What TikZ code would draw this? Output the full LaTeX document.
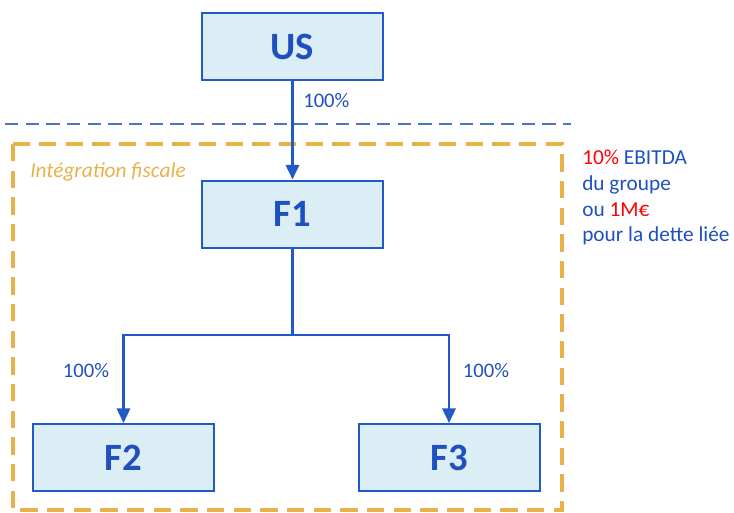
\documentclass[tikz,border=0pt]{standalone}
\usepackage{fontspec}
\setmainfont{Carlito}
\usetikzlibrary{arrows.meta}
\definecolor{boxfill}{HTML}{DCEEF5}
\definecolor{boxline}{HTML}{2159C6}
\definecolor{txtblue}{HTML}{1F50BE}
\definecolor{taxorange}{HTML}{E8B14A}
\definecolor{sepblue}{HTML}{4A76C6}
\definecolor{hotred}{HTML}{FF0000}
\tikzset{
  entity/.style={draw=boxline, line width=1.5pt, fill=boxfill, minimum width=181*0.75pt,
    minimum height=67*0.75pt, inner sep=0pt, text=txtblue, font=\fontsize{29}{32}\selectfont\bfseries},
  link/.style={draw=boxline, line width=1.9pt},
  linkarrow/.style={link, -{Triangle[length=11pt,width=10pt]}},
  pct/.style={text=txtblue, font=\fontsize{15.5}{18}\selectfont},
}
\begin{document}
\begin{tikzpicture}[x=0.75pt,y=-0.75pt]
  \useasboundingbox (0,0) rectangle (734,512);
  % tax group perimeter
  \draw[taxorange, line width=2.6pt, dash pattern=on 13pt off 7pt] (13,144) rectangle (562,510);
  % separator line
  \draw[sepblue, line width=1.3pt, dash pattern=on 10pt off 5.5pt] (5,124) -- (571,124);
  \node[anchor=west, text=taxorange, font=\fontsize{16}{19}\selectfont\itshape, inner sep=0pt] (ig) at (30,172) {Intégration fiscale};

  \node[entity] (us) at (292.5,46.5) {US};
  \node[entity] (f1) at (292.5,214) {F1};
  \node[entity] (f2) at (123.5,457.5) {F2};
  \node[entity] (f3) at (449,457.5) {F3};

  \coordinate (split) at (292.5,335);
  \draw[linkarrow] (us) -- (f1);
  \draw[link] (f1) -- (split);
  \draw[linkarrow] (split) -| (f2);
  \draw[linkarrow] (split) -| (f3);

  \node[pct, anchor=west, inner sep=0pt] (p1) at (303,101) {100\%};
  \node[pct] (p2) at (86,371) {100\%};
  \node[pct] (p3) at (486,371) {100\%};

  \node[anchor=north west, align=left, text=txtblue, font=\fontsize{16}{19.2}\selectfont, inner sep=0pt] (rule) at (582,150)
    {{\color{hotred}10\%} EBITDA\\du groupe\\ou {\color{hotred}1M€}\\pour la dette liée};
\end{tikzpicture}
\end{document}
